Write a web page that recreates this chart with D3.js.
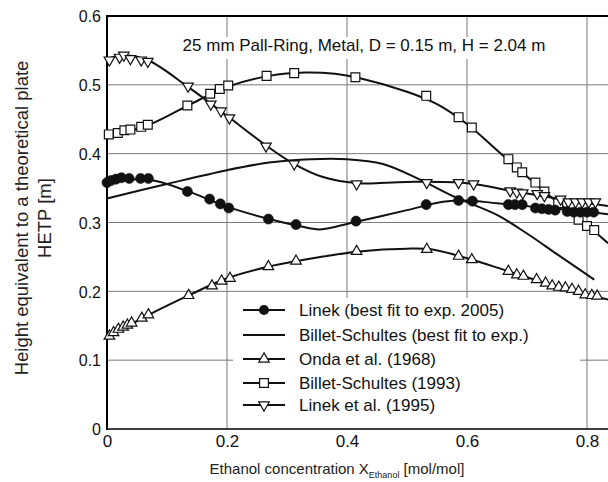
<!DOCTYPE html>
<html>
<head>
<meta charset="utf-8">
<script src="https://cdn.jsdelivr.net/npm/d3@7"></script>
<style>
  body { margin: 0; background: #fff; }
  text { font-family: "Liberation Sans", Arial, sans-serif; }
</style>
</head>
<body>
<svg id="chart" width="608" height="482"></svg>
<script>
// ====================================================================
// data
var x_ticks = [0, 0.2, 0.4, 0.6, 0.8];
var y_ticks = [0, 0.1, 0.2, 0.3, 0.4, 0.5, 0.6];

var series_names = [
  "Linek (best fit to exp. 2005)",
  "Billet-Schultes (best fit to exp.)",
  "Onda et al. (1968)",
  "Billet-Schultes (1993)",
  "Linek et al. (1995)"
];

// measured points
var linek_2005_pts = [[0.0,0.358],[0.007,0.361],[0.015,0.363],[0.024,0.365],[0.037,0.364],[0.056,0.364],[0.069,0.364],
  [0.134,0.345],[0.171,0.334],[0.189,0.327],[0.203,0.321],[0.269,0.305],[0.315,0.297],[0.415,0.302],[0.532,0.326],
  [0.586,0.332],[0.609,0.331],[0.669,0.326],[0.680,0.326],[0.692,0.326],[0.714,0.321],[0.725,0.320],[0.736,0.319],
  [0.747,0.318],[0.767,0.316],[0.778,0.315],[0.789,0.315],[0.800,0.315],[0.811,0.315]];

var onda_pts = [[0.004,0.135],[0.011,0.140],[0.019,0.145],[0.027,0.148],[0.034,0.151],[0.041,0.154],[0.058,0.161],
  [0.069,0.166],[0.136,0.194],[0.175,0.208],[0.191,0.215],[0.205,0.219],[0.269,0.236],[0.315,0.244],[0.416,0.258],
  [0.533,0.261],[0.586,0.251],[0.608,0.246],[0.669,0.229],[0.683,0.224],[0.694,0.222],[0.716,0.217],[0.731,0.212],
  [0.742,0.208],[0.753,0.206],[0.764,0.205],[0.775,0.203],[0.786,0.200],[0.797,0.195],[0.808,0.194],[0.817,0.193]];

var billet_1993_pts = [[0.003,0.428],[0.018,0.430],[0.029,0.434],[0.039,0.435],[0.057,0.439],[0.068,0.442],[0.134,0.470],
  [0.172,0.487],[0.188,0.494],[0.202,0.499],[0.266,0.513],[0.312,0.517],[0.414,0.511],[0.532,0.484],[0.586,0.453],
  [0.608,0.438],[0.669,0.392],[0.683,0.380],[0.692,0.373],[0.714,0.358],[0.729,0.345],[0.752,0.328],[0.786,0.304],
  [0.800,0.295],[0.812,0.289]];

var linek_1995_pts = [[0.004,0.536],[0.021,0.540],[0.028,0.543],[0.039,0.538],[0.057,0.536],[0.068,0.534],[0.135,0.498],
  [0.173,0.472],[0.190,0.462],[0.204,0.452],[0.265,0.411],[0.312,0.385],[0.416,0.356],[0.533,0.358],[0.586,0.358],
  [0.611,0.356],[0.672,0.346],[0.683,0.344],[0.693,0.343],[0.717,0.342],[0.729,0.339],[0.756,0.334],[0.769,0.330],
  [0.781,0.330],[0.792,0.330],[0.803,0.330],[0.814,0.330]];

// fitted curves
var linek_2005_fit = [[0,0.360],[0.07,0.362],[0.13,0.347],[0.2,0.323],[0.27,0.305],[0.32,0.295],[0.355,0.290],
  [0.41,0.300],[0.5,0.318],[0.56,0.330],[0.6,0.332],[0.65,0.328],[0.72,0.322],[0.8,0.316],[0.835,0.312]];
var billet_fit_fit = [[0,0.335],[0.1,0.356],[0.2,0.376],[0.27,0.387],[0.34,0.392],[0.4,0.392],[0.46,0.385],
  [0.52,0.363],[0.58,0.337],[0.65,0.311],[0.7,0.284],[0.75,0.254],[0.812,0.217]];
var onda_fit = [[0,0.133],[0.07,0.166],[0.136,0.194],[0.2,0.219],[0.27,0.236],[0.35,0.249],[0.42,0.258],
  [0.5,0.262],[0.54,0.261],[0.6,0.248],[0.67,0.229],[0.75,0.207],[0.835,0.188]];
var billet_1993_fit = [[0,0.424],[0.07,0.442],[0.135,0.470],[0.2,0.497],[0.27,0.513],[0.33,0.518],[0.38,0.516],
  [0.42,0.510],[0.5,0.490],[0.55,0.472],[0.6,0.443],[0.65,0.405],[0.7,0.367],[0.75,0.330],[0.8,0.296],[0.835,0.270]];
var linek_1995_fit = [[0,0.538],[0.03,0.543],[0.07,0.535],[0.135,0.497],[0.2,0.455],[0.265,0.412],[0.31,0.386],
  [0.36,0.366],[0.42,0.357],[0.5,0.359],[0.6,0.357],[0.68,0.345],[0.75,0.335],[0.835,0.324]];

// ====================================================================
// dimensions
var margin = {top: 16, right: 0, bottom: 53, left: 107};
var width = 608 - margin.left - margin.right,
    height = 482 - margin.top - margin.bottom;

var int_font_size = 15;
var str_grid_color = "#7a7a7a";

var svg = d3.select("#chart");
var group_container = svg.append("g")
  .attr("transform", "translate(" + margin.left + "," + margin.top + ")");

var x = d3.scaleLinear().domain([0, 0.835]).range([0, width]);
var y = d3.scaleLinear().domain([0, 0.6]).range([height, 0]);

var fmt = function(d) { return d === 0 ? "0" : d3.format(".1f")(d); };

// ====================================================================
// grid
group_container.append("g")
  .selectAll("line")
  .data(x_ticks.filter(function(d) { return d > 0; }))
  .enter().append("line")
  .attr("x1", function(d) { return x(d); })
  .attr("x2", function(d) { return x(d); })
  .attr("y1", 0).attr("y2", height)
  .style("stroke", str_grid_color).style("stroke-width", 1);

group_container.append("g")
  .selectAll("line")
  .data(y_ticks.filter(function(d) { return d > 0 && d < 0.6; }))
  .enter().append("line")
  .attr("x1", 0).attr("x2", width)
  .attr("y1", function(d) { return y(d); })
  .attr("y2", function(d) { return y(d); })
  .style("stroke", str_grid_color).style("stroke-width", 1);

// title box
var title_group = group_container.append("g");
title_group.append("rect")
  .attr("x", 71).attr("y", 21)
  .attr("width", 372).attr("height", 22)
  .style("fill", "#fff");
title_group.append("text")
  .attr("x", 257).attr("y", 35)
  .attr("text-anchor", "middle")
  .style("font-size", "17px")
  .style("fill", "#111")
  .text("25 mm Pall-Ring, Metal, D = 0.15 m, H = 2.04 m");

// ====================================================================
// axes
var y_axis_group = group_container.append("g")
  .call(d3.axisLeft(y).tickValues(y_ticks).tickFormat(fmt).tickSize(0).tickPadding(6));
y_axis_group.select(".domain").remove();
y_axis_group.selectAll("text")
  .style("font-size", int_font_size + 1 + "px")
  .style("font-family", "Liberation Sans, Arial, sans-serif")
  .style("fill", "#111")
  .attr("dy", "0.36em");

var x_axis_group = group_container.append("g")
  .attr("transform", "translate(0," + height + ")")
  .call(d3.axisBottom(x).tickValues(x_ticks).tickFormat(fmt).tickSize(0).tickPadding(6));
x_axis_group.select(".domain").remove();
x_axis_group.selectAll("text")
  .style("font-size", int_font_size + 2 + "px")
  .style("font-family", "Liberation Sans, Arial, sans-serif")
  .style("fill", "#111");

// frame lines
group_container.append("line")
  .attr("x1", 0).attr("x2", 0).attr("y1", -1).attr("y2", height + 1)
  .style("stroke", "#000").style("stroke-width", 2);
group_container.append("line")
  .attr("x1", 0).attr("x2", width).attr("y1", 0).attr("y2", 0)
  .style("stroke", "#000").style("stroke-width", 2);
group_container.append("line")
  .attr("x1", 0).attr("x2", width).attr("y1", height).attr("y2", height)
  .style("stroke", "#000").style("stroke-width", 1.5);

// axis titles
var y_title = svg.append("text")
  .attr("transform", "translate(28,218) rotate(-90)")
  .attr("text-anchor", "middle")
  .style("font-size", "18.5px")
  .style("fill", "#222");
y_title.append("tspan").attr("x", 0).attr("y", 0).text("Height equivalent to a theoretical plate");
y_title.append("tspan").attr("x", 0).attr("y", 23).text("HETP [m]");

var x_title = svg.append("text")
  .attr("x", 337).attr("y", 474)
  .attr("text-anchor", "middle")
  .style("font-size", "15px")
  .style("fill", "#222");
x_title.append("tspan").text("Ethanol concentration X");
x_title.append("tspan").attr("dy", 4).style("font-size", "9px").text("Ethanol");
x_title.append("tspan").attr("dy", -4).text(" [mol/mol]");

// ====================================================================
// legend box (drawn over grid)
var legend_group = group_container.append("g")
  .attr("transform", "translate(" + (233 - margin.left) + "," + (298 - margin.top) + ")");
legend_group.append("rect")
  .attr("x", 0).attr("y", 0)
  .attr("width", 347).attr("height", height - (298 - margin.top) - 1)
  .style("fill", "#fff");

// ====================================================================
// curves and markers
var line_gen = d3.line()
  .x(function(d) { return x(d[0]); })
  .y(function(d) { return y(d[1]); })
  .curve(d3.curveCatmullRom.alpha(0.5));

var fits = [linek_2005_fit, billet_fit_fit, onda_fit, billet_1993_fit, linek_1995_fit];
var curve_group = group_container.append("g");
fits.forEach(function(f) {
  curve_group.append("path")
    .attr("d", line_gen(f))
    .style("fill", "none")
    .style("stroke", "#111")
    .style("stroke-width", 2);
});

var sym_up = d3.symbol().type(d3.symbolTriangle).size(48);
var sym_sq = d3.symbol().type(d3.symbolSquare).size(78);

function fn_markers(pts, kind) {
  var g = group_container.append("g");
  var sel = g.selectAll("path").data(pts).enter().append("path");
  if (kind === "circle") {
    sel.attr("d", d3.symbol().type(d3.symbolCircle).size(80)())
      .style("fill", "#111").style("stroke", "#111").style("stroke-width", 0.6);
  } else {
    var gen = kind === "square" ? sym_sq : sym_up;
    sel.attr("d", gen()).style("fill", "#fff").style("stroke", "#111").style("stroke-width", 1.2);
  }
  sel.attr("transform", function(d) {
    return "translate(" + x(d[0]) + "," + y(d[1]) + ")" + (kind === "down" ? " rotate(180)" : "");
  });
}

fn_markers(onda_pts, "up");
fn_markers(billet_1993_pts, "square");
fn_markers(linek_1995_pts, "down");
fn_markers(linek_2005_pts, "circle");

// ====================================================================
// legend entries
var legend_kinds = ["circle", "none", "up", "square", "down"];
var legend_rows = [12, 37, 61, 85, 107];

series_names.forEach(function(name, i) {
  var row = legend_group.append("g").attr("transform", "translate(0," + legend_rows[i] + ")");
  row.append("line")
    .attr("x1", 10).attr("x2", 52).attr("y1", 0).attr("y2", 0)
    .style("stroke", "#111").style("stroke-width", 2);
  var k = legend_kinds[i];
  if (k === "circle") {
    row.append("path").attr("d", d3.symbol().type(d3.symbolCircle).size(80)())
      .attr("transform", "translate(31,0)").style("fill", "#111");
  } else if (k !== "none") {
    row.append("path").attr("d", (k === "square" ? sym_sq : sym_up)())
      .attr("transform", "translate(31,0)" + (k === "down" ? " rotate(180)" : ""))
      .style("fill", "#fff").style("stroke", "#111").style("stroke-width", 1.2);
  }
  row.append("text")
    .attr("x", 66).attr("y", 0).attr("dy", "0.36em")
    .style("font-size", "17px")
    .style("fill", "#111")
    .text(name);
});
</script>
</body>
</html>
